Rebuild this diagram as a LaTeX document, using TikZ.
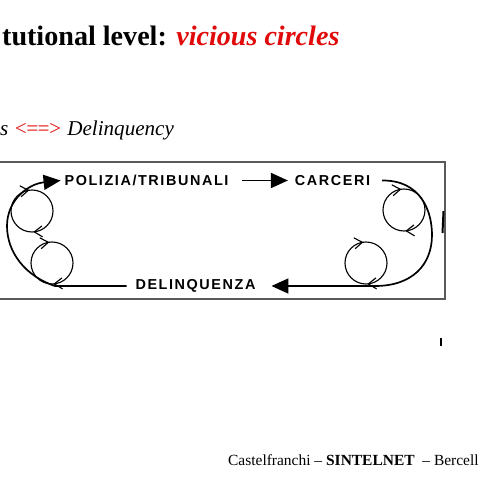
\documentclass[tikz,border=0pt]{standalone}
\usepackage{fontspec}
\setmainfont{Liberation Serif}
\newfontfamily\capsfont[LetterSpace=11]{Liberation Sans}
\usetikzlibrary{arrows.meta,decorations.markings}
\definecolor{vicred}{RGB}{225,10,10}
\begin{document}
\begin{tikzpicture}[
    x = 0.05cm,
    y = -0.05cm,
    >={Triangle[length=0.85cm, width=0.75cm]},
    caps/.style = {font=\capsfont\bfseries\fontsize{20.5pt}{24pt}\selectfont,
    inner sep=0pt, outer sep=0pt},
    flow/.style = {line width=2.4pt},
    spin/.style = {circle, draw, line width=1.6pt, minimum size=2.1cm,
    inner sep=0pt, outer sep=0pt, postaction={decorate},
    decoration={markings,
      mark=at position 0.27 with {\arrowreversed{Straight Barb[length=0.4cm, width=0.55cm]}},
      mark=at position 0.76 with {\arrowreversed{Straight Barb[length=0.4cm, width=0.55cm]}}}},
    frame/.style = {draw=black!65, line width=2pt},
]
\useasboundingbox (0,0) rectangle (480,480);
\clip (0,0) rectangle (480,480);
\fill[white] (0,0) rectangle (480,480);

\node[anchor=base west, inner sep=0pt, font=\bfseries\fontsize{40pt}{44pt}\selectfont] (title) at (2,46)
    {tutional level: \textcolor{vicred}{\textit{vicious circles}}};
\node[anchor=base west, inner sep=0pt, font=\itshape\fontsize{30pt}{34pt}\selectfont] (sub) at (0,135)
    {s \textcolor{vicred}{<\kern-4pt=\kern-4pt=\kern-4pt>} Delinquency};

\draw[frame] (-5,162) rectangle (445,299);

\node[caps] (pol) at (146.5,180.5) {POLIZIA/TRIBUNALI};
\node[caps] (car) at (332.5,180.5) {CARCERI};
\node[caps] (del) at (195.5,286) {DELINQUENZA};

\node[spin] (c1) at (32,211) {};
\node[spin] (c2) at (52,263) {};
\node[spin] (c3) at (404,210) {};
\node[spin] (c4) at (366,263) {};

\draw[flow, ->, shorten <=0.7cm, shorten >=0.35cm] (pol.east) -- (car.west);
\draw[flow, ->] ([xshift=-0.45cm]del.west) -- (55,286) .. controls (25,276) and (7,252) .. (7,226)
    .. controls (7,200) and (28,184) .. ([xshift=-0.2cm]pol.west);
\draw[flow, ->] ([xshift=0.6cm]car.east) .. controls (420,180) and (432,210) .. (432,235)
    .. controls (432,265) and (412,286) .. (375,286) -- ([xshift=0.8cm]del.east);

\draw[line width=2.8pt] (443.5,211) -- (442.5,233);
\draw[line width=2pt] (441,338) -- (441,346);

\node[anchor=base west, inner sep=0pt, font=\fontsize{22pt}{26pt}\selectfont] (foot) at (228,465)
    {Castelfranchi -- \textbf{SINTELNET}\ \ -- Bercell};
\end{tikzpicture}
\end{document}
